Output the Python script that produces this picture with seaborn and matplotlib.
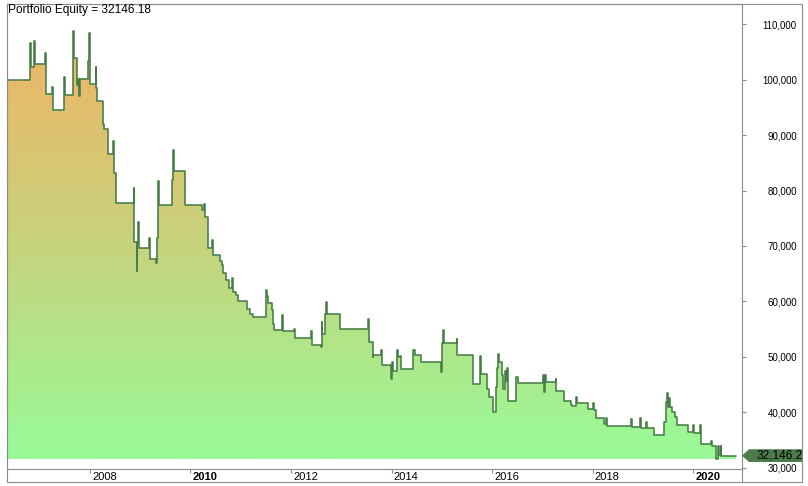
import numpy as np
import pandas as pd
import matplotlib
matplotlib.use("Agg")
import matplotlib.pyplot as plt
import seaborn as sns
from matplotlib.colors import LinearSegmentedColormap
from matplotlib.patches import Polygon, Rectangle
from matplotlib.lines import Line2D
from matplotlib.transforms import blended_transform_factory, ScaledTranslation

# equity curve (decimal year, portfolio equity), step-wise
years = [
    2006.35, 2006.80, 2006.82, 2006.88, 2006.90, 2007.10, 2007.12, 2007.24, 2007.26, 2007.48,
    2007.50, 2007.66, 2007.68, 2007.74, 2007.76, 2007.79, 2007.81, 2007.96, 2007.98, 2008.00,
    2008.12, 2008.13, 2008.15, 2008.25, 2008.27, 2008.35, 2008.46, 2008.47, 2008.51, 2008.87,
    2008.88, 2008.93, 2008.94, 2008.96, 2008.97, 2009.18, 2009.19, 2009.31, 2009.33, 2009.35,
    2009.36, 2009.38, 2009.64, 2009.66, 2009.68, 2009.90, 2010.23, 2010.27, 2010.29, 2010.34,
    2010.43, 2010.44, 2010.59, 2010.63, 2010.65, 2010.70, 2010.76, 2010.83, 2010.84, 2010.91,
    2010.94, 2011.13, 2011.18, 2011.24, 2011.50, 2011.52, 2011.54, 2011.62, 2011.64, 2011.67,
    2011.83, 2011.84, 2012.06, 2012.07, 2012.40, 2012.42, 2012.59, 2012.61, 2012.62, 2012.68,
    2012.70, 2012.72, 2012.98, 2013.53, 2013.55, 2013.56, 2013.63, 2013.64, 2013.79, 2013.81,
    2013.99, 2014.01, 2014.03, 2014.10, 2014.12, 2014.16, 2014.18, 2014.43, 2014.47, 2014.59,
    2014.62, 2014.98, 2015.00, 2015.02, 2015.04, 2015.30, 2015.31, 2015.62, 2015.75, 2015.77,
    2015.90, 2015.93, 2016.02, 2016.08, 2016.10, 2016.12, 2016.13, 2016.20, 2016.21, 2016.26,
    2016.28, 2016.30, 2016.31, 2016.32, 2016.48, 2016.52, 2017.01, 2017.03, 2017.05, 2017.07,
    2017.27, 2017.28, 2017.42, 2017.57, 2017.58, 2017.66, 2017.68, 2017.90, 2018.00, 2018.02,
    2018.06, 2018.22, 2018.27, 2018.29, 2018.77, 2018.79, 2018.94, 2018.96, 2019.07, 2019.09,
    2019.21, 2019.42, 2019.45, 2019.47, 2019.49, 2019.52, 2019.54, 2019.58, 2019.63, 2019.67,
    2019.89, 2019.99, 2020.01, 2020.13, 2020.15, 2020.36, 2020.38, 2020.46, 2020.49, 2020.51,
    2020.55, 2020.56, 2020.86,
]
equity = [
    100000, 106700, 102300, 107000, 102800, 104900, 97400, 98700, 94500, 100500,
    97200, 108800, 104000, 99100, 100100, 97100, 100100, 103400, 108500, 99200,
    102400, 98500, 96100, 92100, 91100, 86700, 89000, 83100, 77700, 80500,
    70800, 65400, 70500, 74300, 69600, 71500, 67600, 67000, 71500, 75600,
    81700, 77400, 82000, 87300, 83500, 77400, 76500, 77500, 75200, 69600,
    71100, 68300, 67300, 66600, 65100, 63900, 62400, 64200, 61700, 61200,
    60000, 58700, 57800, 57100, 62000, 61000, 59700, 58400, 56000, 54800,
    57600, 54700, 55000, 53300, 54700, 52200, 51800, 56200, 54100, 57700,
    59800, 57700, 55100, 56900, 54300, 52600, 50000, 50400, 51300, 48600,
    45900, 49100, 47500, 51200, 49900, 50100, 47800, 51200, 50300, 49100,
    49000, 47300, 52400, 54800, 52400, 53200, 50400, 45000, 50200, 46800,
    44100, 42700, 40000, 44500, 47900, 50500, 49100, 46700, 44100, 47500,
    45600, 47900, 45800, 42000, 46300, 45200, 46700, 43700, 46700, 45500,
    45900, 43800, 42000, 41300, 41100, 42800, 41600, 40500, 41600, 40300,
    38900, 37900, 39000, 37500, 38800, 37400, 39000, 37100, 38300, 37100,
    35900, 38200, 41900, 43400, 41000, 42600, 41000, 40100, 39200, 37700,
    36500, 37700, 36300, 37700, 34200, 34700, 33800, 31500, 33800, 32300,
    33800, 32150, 32146.18,
]
final_equity = 32146.18
year_ticks = [2008, 2010, 2012, 2014, 2016, 2018, 2020]
bold_years = [2010, 2020]
equity_ticks = [30000, 40000, 50000, 60000, 70000, 80000, 90000, 100000, 110000]

df = pd.DataFrame({"year": years, "equity": equity})

sns.set_theme(style="white")
plt.rcParams["font.family"] = ["Liberation Sans", "DejaVu Sans"]

W, H = 808, 486
frame_col = "#8c8c8c"
line_col = "#467d46"

fig = plt.figure(figsize=(W / 100, H / 100), dpi=100)
ax = fig.add_axes([7 / W, 1 - 468.5 / H, 735 / W, 464.5 / H])

x_lim = (2006.35, 2020.97)
y_lim = (29820, 113700)

# gradient fill under the curve, clipped to the step area
base = df["equity"].min()
area = ax.fill_between(df["year"], df["equity"], base, step="post",
                       facecolor="none", edgecolor="none", lw=0)
cmap = LinearSegmentedColormap.from_list("eq", ["#98fb98", "#c8d27c", "#f2b264"])
grad = np.linspace(0, 1, 256).reshape(-1, 1)
im = ax.imshow(grad, aspect="auto", cmap=cmap, origin="lower",
               extent=[x_lim[0], x_lim[1], base, 110500], zorder=1)
im.set_clip_path(area.get_paths()[0], ax.transData)

sns.lineplot(data=df, x="year", y="equity", drawstyle="steps-post",
             color=line_col, lw=1.15, ax=ax, zorder=3)

ax.set_xlim(*x_lim)
ax.set_ylim(*y_lim)
ax.set_xlabel("")
ax.set_ylabel("")

for s in ax.spines.values():
    s.set_visible(True)
    s.set_color(frame_col)
    s.set_linewidth(0.8)

# y axis on the right, labels right aligned
ax.yaxis.tick_right()
ax.set_yticks(equity_ticks)
ax.set_yticklabels([f"{v:,}" for v in equity_ticks])
ax.tick_params(axis="y", which="major", right=True, left=False, direction="out",
               length=3, width=0.8, color=frame_col, pad=36.5, labelsize=7,
               labelcolor="black")
for lbl in ax.get_yticklabels():
    lbl.set_horizontalalignment("right")

# x axis: year labels to the right of the tick
ax.set_xticks(year_ticks)
ax.set_xticklabels([str(y) for y in year_ticks])
ax.tick_params(axis="x", which="major", bottom=True, direction="out",
               length=3, width=0.8, color=frame_col, pad=-0.8, labelsize=8,
               labelcolor="black")
shift = ScaledTranslation(2 / 100, 0, fig.dpi_scale_trans)
for lbl, y in zip(ax.get_xticklabels(), year_ticks):
    lbl.set_horizontalalignment("left")
    lbl.set_transform(lbl.get_transform() + shift)
    if y in bold_years:
        lbl.set_fontweight("bold")

# outer frame and divider lines
fig.add_artist(Rectangle((7 / W, 1 - 482 / H), 795 / W, 478 / H, transform=fig.transFigure,
                         fill=False, ec=frame_col, lw=0.8))
fig.add_artist(Line2D([742 / W, 742 / W], [1 - 482 / H, 1 - 468.5 / H],
                      transform=fig.transFigure, color=frame_col, lw=0.8))

# title
fig.text(7.5 / W, 1 - 4.5 / H, f"Portfolio Equity = {final_equity:.2f}",
         ha="left", va="top", fontsize=8.6, color="black")

# last value marker on the right axis
trans = blended_transform_factory(fig.transFigure, ax.transData)
hh = 1150
marker = [(742 / W, final_equity), (749 / W, final_equity + hh), (802 / W, final_equity + hh),
          (802 / W, final_equity - hh), (749 / W, final_equity - hh)]
fig.add_artist(Polygon(marker, closed=True, transform=trans, fc="#4c7c4c", ec="none", zorder=5))
fig.text(803 / W, final_equity, f"{final_equity:,.1f}", transform=trans, ha="right",
         va="center", fontsize=8.6, color="black", zorder=6)

fig.savefig("out.png", dpi=100)
